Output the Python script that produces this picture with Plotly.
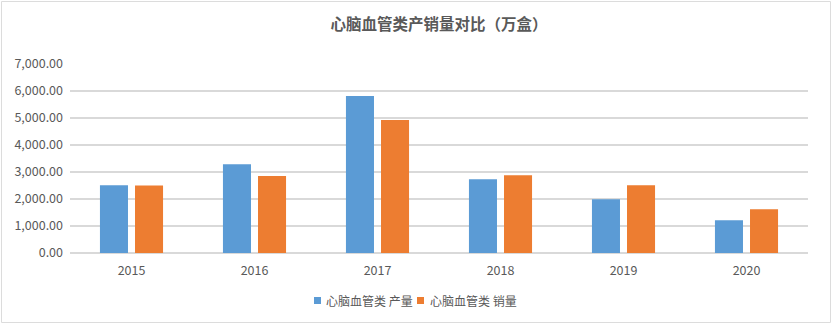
import plotly.graph_objects as go

years = ["2015", "2016", "2017", "2018", "2019", "2020"]
production = [2510, 3285, 5815, 2730, 1990, 1210]
sales = [2500, 2850, 4925, 2880, 2510, 1620]
series_names = ["心脑血管类 产量", "心脑血管类 销量"]
colors = ["#5B9BD5", "#ED7D31"]
title_text = "心脑血管类产销量对比（万盒）"

FONT = "Microsoft YaHei, Noto Sans CJK SC, sans-serif"
W, H = 832, 325
ML, MR, MT, MB = 70, 24, 64, 72
pw = W - ML - MR
ph = H - MT - MB


def px(x):
    return (x - ML) / pw


def py(y):
    return (H - MB - y) / ph


fig = go.Figure()
for name, vals, c in zip(series_names, [production, sales], colors):
    fig.add_trace(go.Bar(x=years, y=vals, name=name, showlegend=False,
                         marker=dict(color=c, line=dict(width=0))))

# light frame around the chart
fig.add_shape(type="rect", xref="paper", yref="paper",
              x0=px(1.5), x1=px(W - 1.5), y0=py(H - 2.5), y1=py(1.5),
              line=dict(color="#DCDCDC", width=1), layer="below")

# custom compact legend
legend_items = [(314, 326), (417, 430)]
for (sx, tx), name, c in zip(legend_items, series_names, colors):
    fig.add_shape(type="rect", xref="paper", yref="paper",
                  x0=px(sx), x1=px(sx + 7), y0=py(304), y1=py(297),
                  fillcolor=c, line=dict(width=0))
    fig.add_annotation(text=name, xref="paper", yref="paper",
                       x=px(tx), y=py(300.5), xanchor="left", yanchor="middle",
                       showarrow=False, xshift=-2,
                       font=dict(family=FONT, size=12, color="#595959"))

fig.update_layout(
    width=W, height=H,
    margin=dict(l=ML, r=MR, t=MT, b=MB),
    paper_bgcolor="white", plot_bgcolor="white",
    barmode="group", bargap=0.43, bargroupgap=0.2,
    title=dict(text="<b>" + title_text + "</b>", x=0.5, xanchor="center",
               xref="paper", y=1 - 25 / H, yanchor="middle",
               font=dict(family=FONT, size=15.5, color="#595959")),
    font=dict(family=FONT, size=12, color="#595959"),
    showlegend=False,
    xaxis=dict(showgrid=False, showline=False, ticks="", zeroline=False,
               ticklabelstandoff=8,
               tickfont=dict(family=FONT, size=12.5, color="#595959")),
    yaxis=dict(range=[0, 7000], dtick=1000, tickformat=",.2f",
               showgrid=True, gridcolor="#D9D9D9", gridwidth=1.5,
               zeroline=True, zerolinecolor="#D9D9D9", zerolinewidth=1.5,
               showline=False, ticks="", ticklen=0, ticklabelstandoff=6,
               tickfont=dict(family=FONT, size=12.5, color="#595959")),
)

fig.write_html("out.html")
